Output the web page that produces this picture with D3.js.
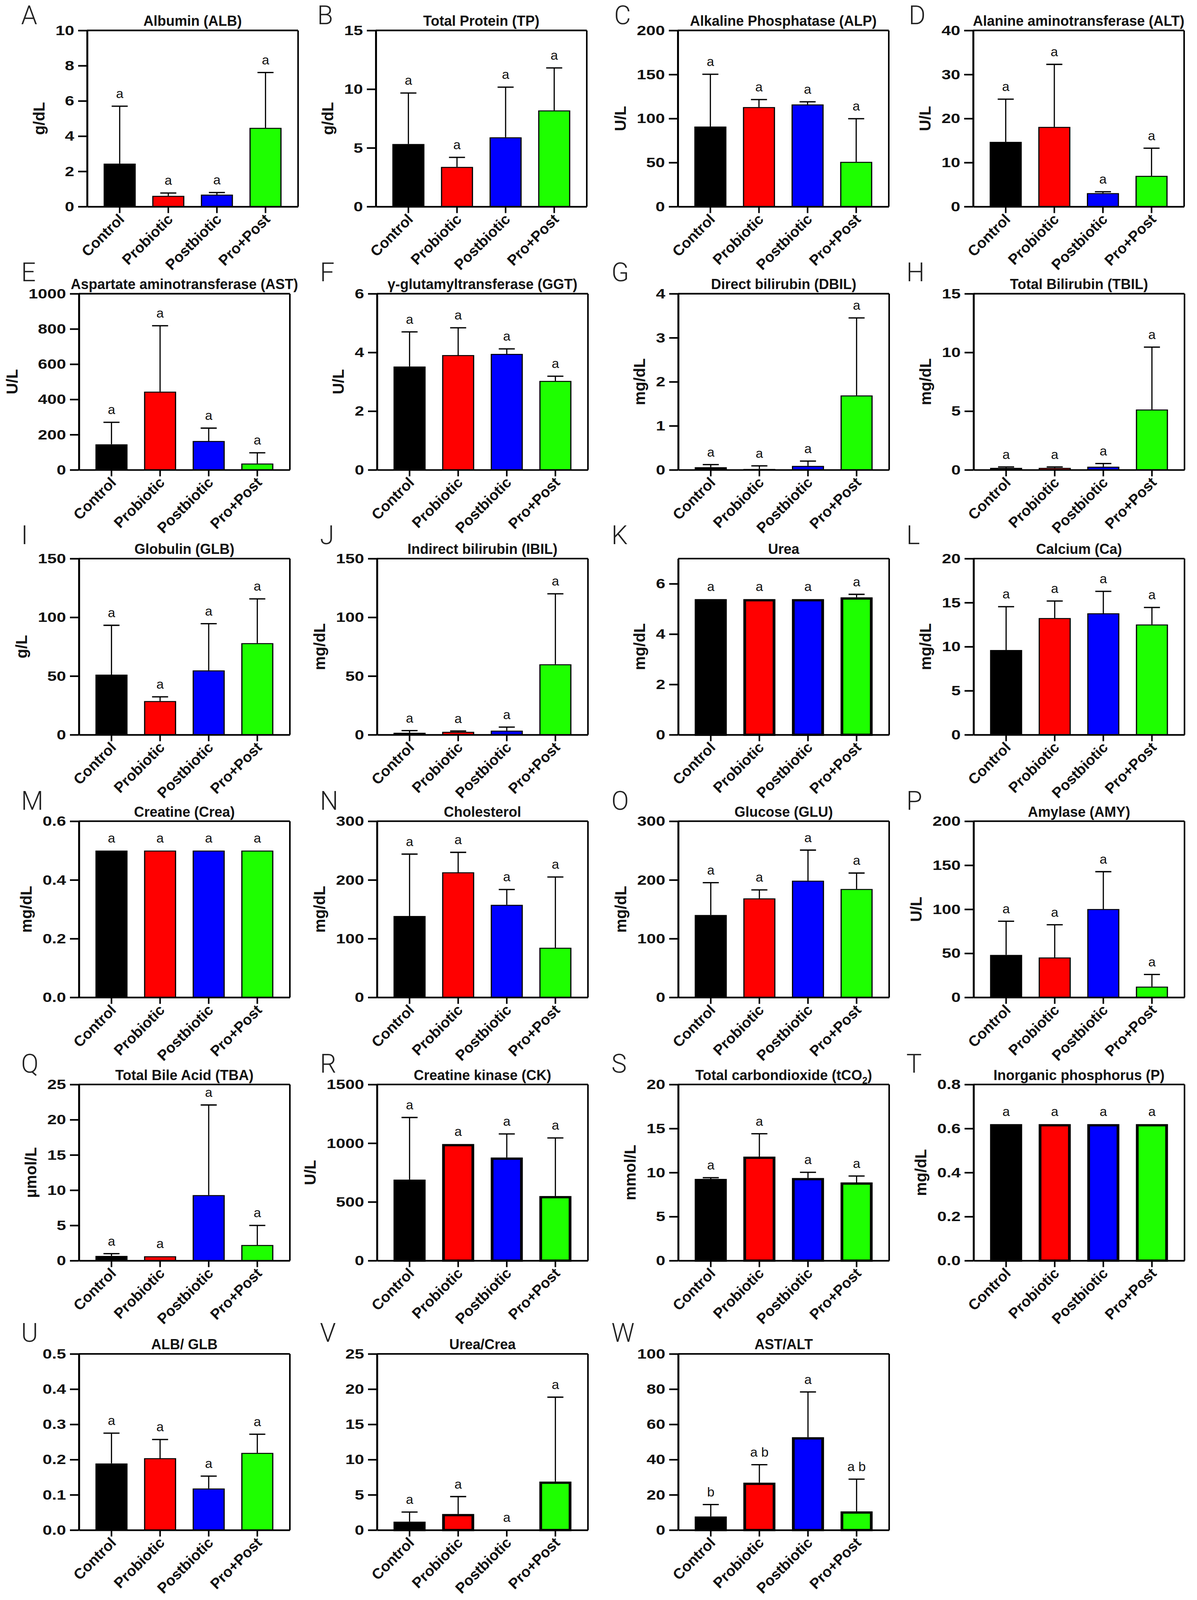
<!DOCTYPE html>
<html><head><meta charset="utf-8">
<script src="https://cdn.jsdelivr.net/npm/d3@7"></script>
<style>html,body{margin:0;padding:0;background:#fff;overflow:hidden;} svg{display:block}</style>
</head><body>
<svg id="chart"></svg>
<script>
// ---------- DATA ----------
const groups = ["Control", "Probiotic", "Postbiotic", "Pro+Post"];
const groupColors = ["#000000", "#ff0000", "#0000ff", "#1eff00"];

const panelLetters = ["A","B","C","D","E","F","G","H","I","J","K","L","M","N","O","P","Q","R","S","T","U","V","W"];
const panelTitles = [
  "Albumin (ALB)", "Total Protein (TP)", "Alkaline Phosphatase (ALP)", "Alanine aminotransferase (ALT)",
  "Aspartate aminotransferase (AST)", "γ-glutamyltransferase (GGT)", "Direct bilirubin (DBIL)", "Total Bilirubin (TBIL)",
  "Globulin (GLB)", "Indirect bilirubin (IBIL)", "Urea", "Calcium (Ca)",
  "Creatine (Crea)", "Cholesterol", "Glucose (GLU)", "Amylase (AMY)",
  "Total Bile Acid (TBA)", "Creatine kinase (CK)", "Total carbondioxide (tCO₂)", "Inorganic phosphorus (P)",
  "ALB/ GLB", "Urea/Crea", "AST/ALT"
];
const yUnits = [
  "g/dL", "g/dL", "U/L", "U/L",
  "U/L", "U/L", "mg/dL", "mg/dL",
  "g/L", "mg/dL", "mg/dL", "mg/dL",
  "mg/dL", "mg/dL", "mg/dL", "U/L",
  "µmol/L", "U/L", "mmol/L", "mg/dL",
  "", "", ""
];
const yMax  = [10, 15, 200, 40, 1000, 6, 4, 15, 150, 150, 7, 20, 0.6, 300, 300, 200, 25, 1500, 20, 0.8, 0.5, 25, 100];
const yStep = [2, 5, 50, 10, 200, 2, 1, 5, 50, 50, 2, 5, 0.2, 100, 100, 50, 5, 500, 5, 0.2, 0.1, 5, 20];

const meanValues = [
  [2.44, 0.61, 0.68, 4.47],
  [5.33, 3.38, 5.90, 8.19],
  [90.9, 113, 116, 50.8],
  [14.7, 18.1, 3.06, 6.98],
  [145, 444, 164, 36],
  [3.52, 3.91, 3.95, 3.03],
  [0.06, 0.02, 0.09, 1.69],
  [0.17, 0.17, 0.27, 5.14],
  [51.2, 28.7, 54.8, 78.0],
  [1.7, 2.5, 3.5, 60],
  [5.39, 5.39, 5.39, 5.46],
  [9.62, 13.25, 13.79, 12.52],
  [0.5, 0.5, 0.5, 0.5],
  [138.6, 213, 157.6, 84.5],
  [140.3, 168.6, 198.7, 184.6],
  [48.2, 45.3, 100.3, 12.2],
  [0.67, 0.62, 9.3, 2.22],
  [690, 993, 878, 550],
  [9.28, 11.81, 9.38, 8.88],
  [0.62, 0.62, 0.62, 0.62],
  [0.189, 0.204, 0.118, 0.219],
  [1.19, 2.28, 0, 6.88],
  [7.7, 26.9, 52.7, 10.6]
];
const sdValues = [
  [3.26, 0.16, 0.12, 3.14],
  [4.34, 0.81, 4.27, 3.62],
  [59.3, 8.5, 3, 49],
  [9.7, 14.2, 0.31, 6.28],
  [125, 374, 73, 61],
  [1.18, 0.93, 0.17, 0.16],
  [0.06, 0.07, 0.11, 1.76],
  [0.08, 0.08, 0.27, 5.31],
  [42, 3.6, 39.8, 37.7],
  [1.8, 0.7, 3.0, 60],
  [0, 0, 0, 0.12],
  [4.92, 1.93, 2.49, 1.93],
  [0, 0, 0, 0],
  [105.4, 34, 26.1, 120.5],
  [55, 14.4, 52.1, 27.1],
  [38.2, 37.1, 42.4, 13.8],
  [0.32, 0, 12.79, 2.77],
  [529, 0, 201, 495],
  [0.14, 2.6, 0.65, 0.73],
  [0, 0, 0, 0],
  [0.086, 0.053, 0.035, 0.053],
  [1.36, 2.47, 0, 11.98],
  [6.8, 10.2, 25.7, 18.3]
];
const sigLetters = [
  ["a","a","a","a"],["a","a","a","a"],["a","a","a","a"],["a","a","a","a"],
  ["a","a","a","a"],["a","a","a","a"],["a","a","a","a"],["a","a","a","a"],
  ["a","a","a","a"],["a","a","a","a"],["a","a","a","a"],["a","a","a","a"],
  ["a","a","a","a"],["a","a","a","a"],["a","a","a","a"],["a","a","a","a"],
  ["a","a","a","a"],["a","a","a","a"],["a","a","a","a"],["a","a","a","a"],
  ["a","a","a","a"],["a","a","a","a"],["b","a b","a","a b"]
];

// ---------- LAYOUT ----------
const VW = 3064, VH = 4941;
const FONT = "'Liberation Sans', Arial, Helvetica, sans-serif";
const colLeft = [202, 965, 1736, 2492];
const row1Left = [223, 962, 1735, 2491];
const rowTop = [94, 907, 1725, 2536, 3349, 4181];
const plotW = 540, plotH = 544;
const letterX = [54, 819, 1565, 2320];
const row1LetterX = [54, 812, 1572, 2326];
const letterBase = [75, 868, 1680, 2501, 3312, 4144];
const thickBorder = new Set(["K","R","S","T","V","W"]);
const TICK_SX = 1.2;

// fit the whole figure into the actual viewport; keep glyphs undistorted
const winW = window.innerWidth || VW;
let winH = window.innerHeight || VH;
const ch = document.documentElement.clientHeight;
if (ch > 0) winH = Math.min(winH, ch);
const kx = VW / winW, ky = VH / winH;   // counter-scale for text glyphs
const svg = d3.select("#chart")
  .attr("width", winW)
  .attr("height", winH)
  .attr("viewBox", `0 0 ${VW} ${VH}`)
  .attr("preserveAspectRatio", "none");
svg.append("rect").attr("width", VW).attr("height", VH).attr("fill", "#fff");
const cs = (sx = 1) => `scale(${sx * kx},${ky})`;

panelLetters.forEach((L, i) => {
  const r = Math.floor(i / 4), c = i % 4;
  const left = r === 0 ? row1Left[c] : colLeft[c];
  const top = rowTop[r];

  // panel letter
  svg.append("text")
    .attr("transform", `translate(${r === 0 ? row1LetterX[c] : letterX[c]},${letterBase[r]}) ${cs()}`)
    .attr("font-family", "Roboto, 'Liberation Sans', sans-serif")
    .attr("font-weight", 300)
    .attr("font-size", 66)
    .attr("fill", "#222")
    .text(L);

  const g = svg.append("g").attr("transform", `translate(${left},${top})`);
  const x = d3.scaleBand().domain(groups).range([0, plotW]).paddingInner(0.34).paddingOuter(0.34);
  const y = d3.scaleLinear().domain([0, yMax[i]]).range([plotH, 0]);
  const bw = x.bandwidth();
  const rows = groups.map((grp, k) => ({grp, k, mean: meanValues[i][k], sd: sdValues[i][k], sig: sigLetters[i][k]}));
  const sw = thickBorder.has(L) ? 7 : 3;

  // bars
  g.selectAll("rect.bar").data(rows.filter(d => d.mean > 0)).join("rect")
    .attr("class", "bar")
    .attr("x", d => x(d.grp) + sw / 2)
    .attr("width", bw - sw)
    .attr("y", d => y(d.mean) + sw / 2)
    .attr("height", d => Math.max(0, y(0) - y(d.mean) - sw / 2))
    .attr("fill", d => groupColors[d.k])
    .attr("stroke", "#000")
    .attr("stroke-width", sw);

  // error bars (upper only)
  const eb = rows.filter(d => d.sd > 0);
  g.selectAll("line.err").data(eb).join("line")
    .attr("x1", d => x(d.grp) + bw / 2).attr("x2", d => x(d.grp) + bw / 2)
    .attr("y1", d => y(d.mean)).attr("y2", d => y(d.mean + d.sd))
    .attr("stroke", "#000").attr("stroke-width", 3);
  g.selectAll("line.cap").data(eb).join("line")
    .attr("x1", d => x(d.grp) + bw / 4).attr("x2", d => x(d.grp) + 3 * bw / 4)
    .attr("y1", d => y(d.mean + d.sd)).attr("y2", d => y(d.mean + d.sd))
    .attr("stroke", "#000").attr("stroke-width", 4);

  // significance letters
  g.selectAll("text.sig").data(rows).join("text")
    .attr("transform", d => `translate(${x(d.grp) + bw / 2},${y(d.mean + d.sd) - 25}) ${cs()}`)
    .attr("text-anchor", "middle")
    .attr("font-family", FONT)
    .attr("font-size", 34)
    .attr("fill", "#111")
    .text(d => d.sig);

  // box top & right
  g.append("line").attr("x1", 0).attr("x2", plotW).attr("y1", 0).attr("y2", 0)
    .attr("stroke", "#000").attr("stroke-width", 5);
  g.append("line").attr("x1", plotW).attr("x2", plotW).attr("y1", 0).attr("y2", plotH)
    .attr("stroke", "#000").attr("stroke-width", 4);

  // y axis
  const ticks = d3.range(0, yMax[i] + yStep[i] / 2, yStep[i]);
  const fmt = yStep[i] < 1 ? d3.format(".1f") : d3.format("d");
  const ya = g.append("g").call(d3.axisLeft(y).tickValues(ticks).tickFormat(fmt).tickSize(23).tickSizeOuter(0).tickPadding(10));
  ya.select(".domain").attr("stroke-width", 5);
  ya.selectAll(".tick line").attr("stroke-width", 5);
  ya.selectAll(".tick text")
    .attr("x", 0)
    .attr("transform", `translate(-33,0) ${cs(TICK_SX)}`)
    .attr("font-family", FONT).attr("font-weight", "bold").attr("font-size", 36).attr("fill", "#111");
  let maxW = 0;
  ya.selectAll(".tick text").each(function () { maxW = Math.max(maxW, this.getComputedTextLength() * TICK_SX * kx); });

  // x axis
  const xa = g.append("g").attr("transform", `translate(0,${plotH})`)
    .call(d3.axisBottom(x).tickSize(20).tickSizeOuter(0));
  xa.select(".domain").attr("stroke-width", 5);
  xa.selectAll(".tick line").attr("stroke-width", 4);
  xa.selectAll(".tick text")
    .attr("x", 0).attr("y", 0).attr("dy", 0)
    .attr("transform", `translate(14,42) ${cs()} rotate(-45)`)
    .attr("text-anchor", "end")
    .attr("font-family", FONT).attr("font-weight", "bold").attr("font-size", 38).attr("fill", "#111");

  // y label
  if (yUnits[i]) {
    g.append("text")
      .attr("transform", `translate(${-(33 + maxW + 28)},${plotH / 2}) ${cs()} rotate(-90)`)
      .attr("text-anchor", "middle")
      .attr("font-family", FONT).attr("font-weight", "bold").attr("font-size", 40).attr("fill", "#111")
      .text(yUnits[i]);
  }

  // title (with subscript support)
  const t = g.append("text")
    .attr("transform", `translate(${plotW / 2},-14) ${cs()}`)
    .attr("text-anchor", "middle")
    .attr("font-family", FONT).attr("font-weight", "bold").attr("font-size", 36).attr("fill", "#111");
  const title = panelTitles[i];
  if (title.includes("₂")) {
    const parts = title.split("₂");
    t.append("tspan").text(parts[0]);
    t.append("tspan").attr("font-size", 24).attr("dy", 9).text("2");
    t.append("tspan").attr("dy", -9).text(parts[1]);
  } else {
    t.text(title);
  }
});
</script>
</body></html>
